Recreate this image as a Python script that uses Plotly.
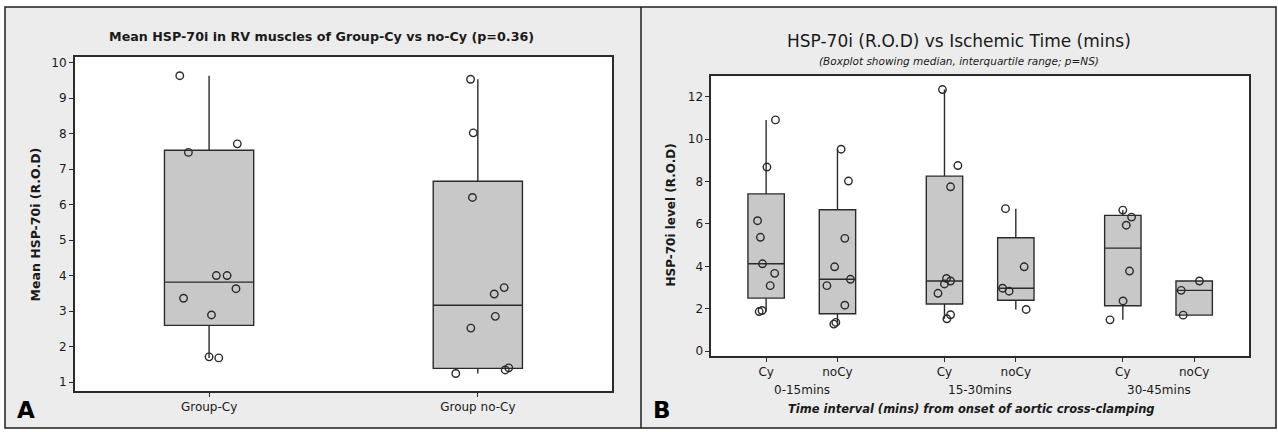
import numpy as np
import plotly.graph_objects as go

# ---------------- data ----------------
# Panel A
A_CATEGORIES = ["Group-Cy", "Group no-Cy"]
A_CY = [9.63, 7.47, 7.71, 4.00, 4.00, 3.63, 3.36, 2.89, 1.71, 1.68]
A_NOCY = [9.53, 8.02, 6.20, 3.66, 3.48, 2.85, 2.52, 1.24, 1.34, 1.40]
A_Y_TICKS = [1, 2, 3, 4, 5, 6, 7, 8, 9, 10]

# Panel B
B_GROUPS = ["0-15mins", "15-30mins", "30-45mins"]
B_ARMS = ["Cy", "noCy"]
B_CY_0_15 = [10.90, 8.68, 6.15, 5.37, 4.12, 3.67, 3.09, 1.87, 1.92]
B_NOCY_0_15 = [9.52, 8.02, 5.32, 3.98, 3.39, 3.09, 2.17, 1.28, 1.36]
B_CY_15_30 = [12.33, 8.75, 7.75, 3.43, 3.31, 3.17, 2.73, 1.72, 1.53]
B_NOCY_15_30 = [6.72, 3.98, 2.97, 2.83, 1.97]
B_CY_30_45 = [6.65, 6.32, 5.94, 3.78, 2.37, 1.48]
B_NOCY_30_45 = [3.31, 2.87, 1.70]
B_Y_TICKS = [0, 2, 4, 6, 8, 10, 12]

# point jitter (horizontal spread of individual dots, in category units)
A_CY_JIT = [-0.109, -0.077, 0.105, 0.027, 0.067, 0.100, -0.095, 0.009, 0.0, 0.036]
A_NOCY_JIT = [-0.027, -0.017, -0.020, 0.098, 0.061, 0.065, -0.026, -0.082, 0.102, 0.115]
B_JIT = [
    [0.131, 0.011, -0.12, -0.08, -0.051, 0.12, 0.057, -0.097, -0.057],
    [0.051, 0.154, 0.103, -0.04, 0.182, -0.148, 0.103, -0.051, -0.023],
    [-0.028, 0.188, 0.085, 0.028, 0.085, 0.0, -0.091, 0.085, 0.034],
    [-0.145, 0.117, -0.185, -0.094, 0.145],
    [0.0, 0.123, 0.048, 0.094, 0.003, -0.18],
    [0.074, -0.182, -0.154],
]

# ---------------- helpers ----------------
W, H = 1278, 432
FONT = "DejaVu Sans"
DARK = "#2b2b2b"
BOXFILL = "#c8c8c8"
PANEL = "#ececec"


def px(x):
    return x / W


def py(y):
    return 1 - y / H


def stats(vals):
    v = np.sort(np.asarray(vals, dtype=float))
    q1, med, q3 = np.percentile(v, [25, 50, 75], method="weibull")
    iqr = q3 - q1
    lo = v[v >= q1 - 1.5 * iqr].min()
    hi = v[v <= q3 + 1.5 * iqr].max()
    return q1, med, q3, lo, hi


fig = go.Figure()


def add_box(vals, jit, pos, width, xa, ya):
    q1, med, q3, lo, hi = stats(vals)
    fig.add_trace(go.Box(
        x=[pos], q1=[q1], median=[med], q3=[q3], lowerfence=[lo], upperfence=[hi],
        width=width, whiskerwidth=0, fillcolor=BOXFILL,
        line=dict(color=DARK, width=1.4), boxpoints=False,
        showlegend=False, xaxis=xa, yaxis=ya, hoverinfo="skip",
    ))
    fig.add_trace(go.Scatter(
        x=[pos + j for j in jit], y=vals, mode="markers",
        marker=dict(symbol="circle-open", size=7.5, color=DARK, line=dict(width=1.4)),
        showlegend=False, xaxis=xa, yaxis=ya, hoverinfo="skip",
    ))


# Panel A
for i, (vals, jit) in enumerate([(A_CY, A_CY_JIT), (A_NOCY, A_NOCY_JIT)]):
    add_box(vals, jit, i, 0.332, "x", "y")

# Panel B
B_SERIES = [B_CY_0_15, B_NOCY_0_15, B_CY_15_30, B_NOCY_15_30, B_CY_30_45, B_NOCY_30_45]
B_POS = []
B_TICKTEXT = []
for g in range(len(B_GROUPS)):
    for a in range(len(B_ARMS)):
        B_POS.append(g * 2.5 + a)
        B_TICKTEXT.append(B_ARMS[a])
for vals, jit, pos in zip(B_SERIES, B_JIT, B_POS):
    add_box(vals, jit, pos, 0.51, "x2", "y2")

# ---------------- layout ----------------
A_X = [74.7, 612.2]
A_Y = [56.5, 392.7]
B_X = [711.2, 1249.1]
B_Y = [75.3, 357.7]

axis_common = dict(
    showline=True, mirror=True, linecolor=DARK, linewidth=1.5,
    ticks="outside", ticklen=4, tickwidth=1.2, tickcolor=DARK,
    showgrid=False, zeroline=False,
    tickfont=dict(family=FONT, size=12, color="#1a1a1a"),
)

fig.update_layout(
    width=W, height=H,
    margin=dict(l=0, r=0, t=0, b=0),
    paper_bgcolor="white",
    plot_bgcolor="rgba(0,0,0,0)",
    showlegend=False,
    xaxis=dict(domain=[px(A_X[0]), px(A_X[1])], range=[-0.5, 1.5],
               tickvals=[0, 1], ticktext=A_CATEGORIES, anchor="y", **axis_common),
    yaxis=dict(domain=[py(A_Y[1]), py(A_Y[0])], range=[0.748, 10.154],
               tickvals=A_Y_TICKS, anchor="x", **axis_common),
    xaxis2=dict(domain=[px(B_X[0]), px(B_X[1])], range=[-0.77, 6.77],
                tickvals=B_POS, ticktext=B_TICKTEXT, anchor="y2", **axis_common),
    yaxis2=dict(domain=[py(B_Y[1]), py(B_Y[0])], range=[-0.234, 12.98],
                tickvals=B_Y_TICKS, anchor="x2", **axis_common),
)

shapes = [
    dict(type="rect", xref="paper", yref="paper", x0=px(5), x1=px(1276), y0=py(430), y1=py(6),
         fillcolor=PANEL, line=dict(color="#1e1e1e", width=1.5), layer="below"),
    dict(type="line", xref="paper", yref="paper", x0=px(641), x1=px(641), y0=py(430), y1=py(6),
         line=dict(color="#1e1e1e", width=1.5), layer="below"),
    dict(type="rect", xref="paper", yref="paper", x0=px(A_X[0]), x1=px(A_X[1]), y0=py(A_Y[1]), y1=py(A_Y[0]),
         fillcolor="white", line=dict(width=0), layer="below"),
    dict(type="rect", xref="paper", yref="paper", x0=px(B_X[0]), x1=px(B_X[1]), y0=py(B_Y[1]), y1=py(B_Y[0]),
         fillcolor="white", line=dict(width=0), layer="below"),
]
fig.update_layout(shapes=shapes)


def ann(text, x, y, size, angle=0, color="#1a1a1a", xref="paper"):
    return dict(text=text, x=x, y=py(y), xref=xref, yref="paper", showarrow=False,
                xanchor="center", yanchor="middle", textangle=angle,
                font=dict(family=FONT, size=size, color=color))


annotations = [
    ann("<b>Mean HSP-70i in RV muscles of Group-Cy vs no-Cy (p=0.36)</b>", px(322), 36, 12.7),
    ann("HSP-70i (R.O.D) vs Ischemic Time (mins)", px(959), 40, 17),
    ann("<i>(Boxplot showing median, interquartile range; p=NS)</i>", px(959), 60, 10.5),
    ann("<b>Mean HSP-70i (R.O.D)</b>", px(35), 225, 12.5, angle=-90),
    ann("<b>HSP-70i level (R.O.D)</b>", px(670), 216, 12, angle=-90),
    ann("<b>A</b>", px(25.5), 412, 23, color="black"),
    ann("<b>B</b>", px(662), 412, 23, color="black"),
    ann("<b><i>Time interval (mins) from onset of aortic cross-clamping</i></b>", px(971), 410.5, 11.5),
]
for g, name in enumerate(B_GROUPS):
    annotations.append(ann(name, (B_POS[2 * g] + B_POS[2 * g + 1]) / 2, 391.5, 12, xref="x2"))
fig.update_layout(annotations=annotations)

fig.write_html(
    "out.html",
    config={"displayModeBar": False},
    post_script="document.body.style.margin='0';document.body.style.overflow='hidden';",
)
